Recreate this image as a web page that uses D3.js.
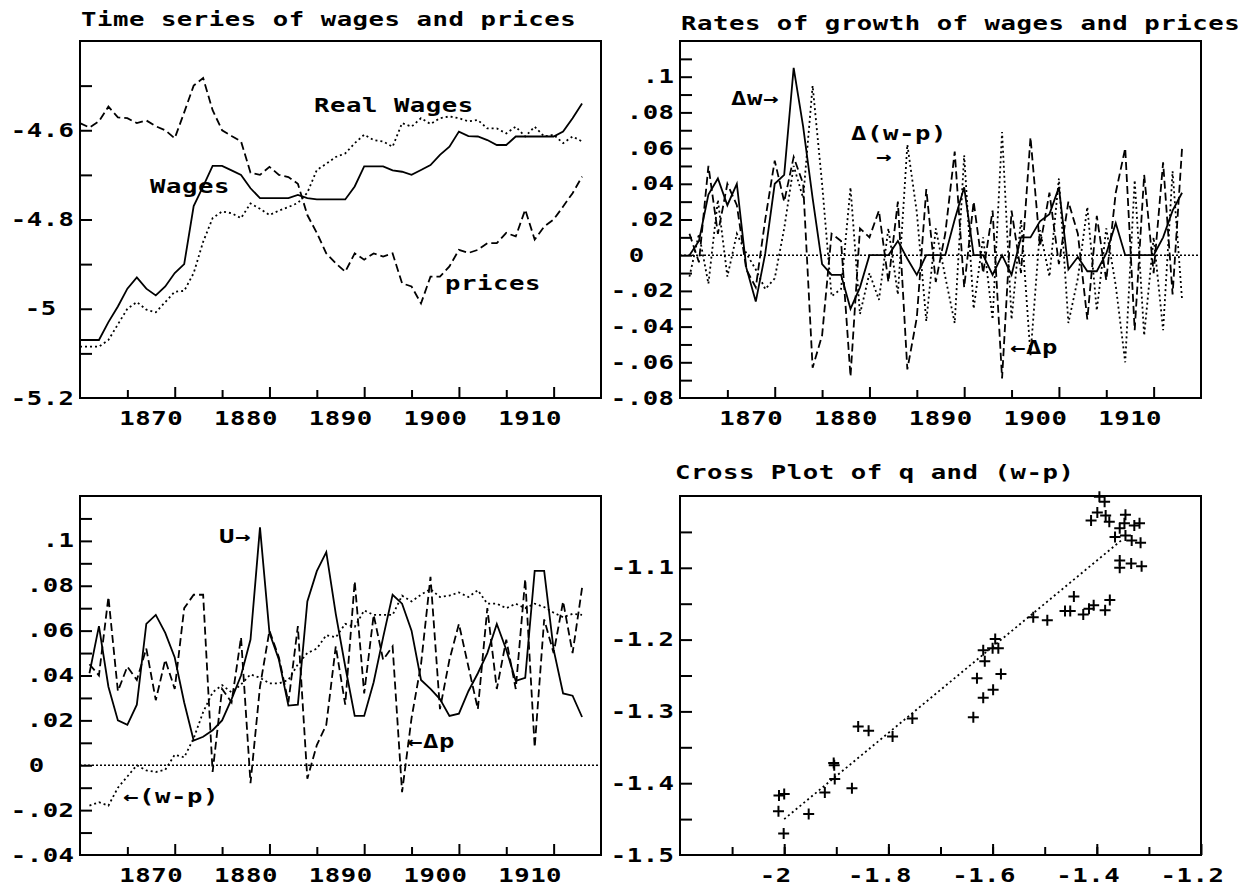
<!DOCTYPE html>
<html>
<head>
<meta charset="utf-8">
<script src="https://cdn.jsdelivr.net/npm/d3@7"></script>
<style>
  body { margin: 0; background: #fff; }
  svg text { font-family: "DejaVu Sans Mono", monospace; font-weight: bold; font-size: 19px; letter-spacing: 0.4px; fill: #000; }
  .tick line { stroke: #000; stroke-width: 2; }
  .solid { fill: none; stroke: #000; stroke-width: 1.8; }
  .dashed { fill: none; stroke: #000; stroke-width: 1.8; stroke-dasharray: 8 4; }
  .dotted { fill: none; stroke: #000; stroke-width: 1.8; stroke-dasharray: 2 3; }
  .zero { stroke: #000; stroke-width: 1.6; stroke-dasharray: 2 2; }
  .plus { stroke: #000; stroke-width: 2; fill: none; }
</style>
</head>
<body>
<svg id="chart" width="1248" height="885"></svg>
<script>
// years of the level series; growth series start one year later
const years = [1860, 1861, 1862, 1863, 1864, 1865, 1866, 1867, 1868, 1869,
  1870, 1871, 1872, 1873, 1874, 1875, 1876, 1877, 1878, 1879,
  1880, 1881, 1882, 1883, 1884, 1885, 1886, 1887, 1888, 1889,
  1890, 1891, 1892, 1893, 1894, 1895, 1896, 1897, 1898, 1899,
  1900, 1901, 1902, 1903, 1904, 1905, 1906, 1907, 1908, 1909,
  1910, 1911, 1912, 1913];
const growthYears = years.slice(1);

// top left: levels
const wages = [-5.07, -5.07, -5.07, -5.03, -4.995, -4.955, -4.93, -4.955, -4.97, -4.95,
  -4.92, -4.90, -4.77, -4.726, -4.68, -4.68, -4.69, -4.70, -4.73, -4.752,
  -4.752, -4.752, -4.752, -4.745, -4.752, -4.755, -4.755, -4.755, -4.755, -4.726,
  -4.681, -4.681, -4.681, -4.69, -4.693, -4.70, -4.689, -4.678, -4.655, -4.637,
  -4.603, -4.613, -4.614, -4.622, -4.633, -4.633, -4.614, -4.614, -4.614, -4.614,
  -4.614, -4.603, -4.573, -4.54];
const prices = [-4.584, -4.594, -4.58, -4.547, -4.571, -4.573, -4.584, -4.578, -4.591, -4.60,
  -4.618, -4.56, -4.50, -4.483, -4.555, -4.60, -4.613, -4.625, -4.695, -4.70,
  -4.682, -4.70, -4.705, -4.72, -4.79, -4.83, -4.876, -4.898, -4.917, -4.876,
  -4.89, -4.876, -4.883, -4.876, -4.943, -4.95, -4.988, -4.928, -4.928, -4.905,
  -4.868, -4.875, -4.868, -4.853, -4.853, -4.83, -4.838, -4.778, -4.845, -4.816,
  -4.80, -4.771, -4.741, -4.704];
const realWages = [-5.085, -5.085, -5.085, -5.07, -5.035, -5.00, -4.985, -5.002, -5.008, -4.985,
  -4.962, -4.96, -4.92, -4.85, -4.797, -4.782, -4.786, -4.797, -4.764, -4.776,
  -4.79, -4.78, -4.772, -4.763, -4.74, -4.689, -4.675, -4.66, -4.652, -4.629,
  -4.61, -4.622, -4.625, -4.637, -4.584, -4.592, -4.573, -4.586, -4.573, -4.569,
  -4.573, -4.58, -4.577, -4.596, -4.596, -4.607, -4.592, -4.614, -4.592, -4.614,
  -4.61, -4.629, -4.614, -4.625];

// top right: growth rates (1861-1913)
const dW = [0.000, 0.008, 0.034, 0.043, 0.028, 0.040, -0.007, -0.026, 0.001, 0.040,
  0.045, 0.105, 0.072, 0.032, -0.005, -0.011, -0.011, -0.030, -0.018, 0.000,
  0.000, 0.000, 0.008, -0.002, -0.011, 0.000, 0.000, 0.000, 0.020, 0.038,
  0.000, 0.000, -0.011, 0.000, -0.011, 0.010, 0.010, 0.019, 0.023, 0.038,
  -0.008, -0.001, -0.009, -0.009, 0.001, 0.018, 0.000, 0.000, 0.000, 0.000,
  0.010, 0.025, 0.035];
const dP = [0.012, -0.004, 0.050, 0.012, 0.040, 0.028, -0.008, -0.018, 0.020, 0.053,
  0.030, 0.055, 0.040, -0.063, -0.045, 0.012, 0.008, -0.068, 0.015, 0.010,
  0.025, -0.015, 0.030, -0.064, -0.035, 0.037, -0.015, 0.012, 0.058, -0.018,
  0.030, -0.010, 0.025, -0.069, 0.025, -0.010, 0.066, 0.005, 0.035, -0.005,
  0.030, 0.012, -0.036, 0.022, -0.014, 0.035, 0.060, -0.042, 0.045, -0.010,
  0.052, -0.022, 0.060];
const dRW = [-0.012, 0.012, -0.016, 0.031, -0.012, 0.012, 0.001, -0.008, -0.019, -0.013,
  0.015, 0.050, 0.032, 0.095, 0.040, -0.023, -0.019, 0.038, -0.033, -0.010,
  -0.025, 0.015, -0.022, 0.062, 0.024, -0.037, 0.015, -0.012, -0.038, 0.056,
  -0.030, 0.010, -0.036, 0.069, -0.036, 0.020, -0.056, 0.014, -0.012, 0.043,
  -0.038, -0.013, 0.027, -0.031, 0.015, -0.017, -0.060, 0.042, -0.045, 0.010,
  -0.042, 0.047, -0.025];

// bottom left: U, price inflation and (w-p) (1861-1913)
const unemp = [0.041, 0.062, 0.035, 0.020, 0.018, 0.027, 0.063, 0.067, 0.059, 0.048,
  0.028, 0.011, 0.0127, 0.0156, 0.020, 0.0295, 0.040, 0.056, 0.106, 0.059,
  0.047, 0.0266, 0.027, 0.073, 0.0865, 0.095, 0.0675, 0.044, 0.022, 0.022,
  0.037, 0.057, 0.076, 0.072, 0.060, 0.038, 0.034, 0.0295, 0.022, 0.023,
  0.033, 0.041, 0.050, 0.063, 0.0515, 0.0376, 0.039, 0.0866, 0.0866, 0.0515,
  0.032, 0.031, 0.0215];
const inflation = [0.045, 0.040, 0.075, 0.033, 0.044, 0.038, 0.052, 0.029, 0.047, 0.034,
  0.070, 0.076, 0.076, -0.003, 0.034, 0.028, 0.057, -0.008, 0.035, 0.060,
  0.048, 0.028, 0.062, -0.006, 0.009, 0.018, 0.053, 0.027, 0.082, 0.032,
  0.067, 0.047, 0.053, -0.012, 0.021, 0.045, 0.084, 0.025, 0.047, 0.063,
  0.044, 0.025, 0.070, 0.034, 0.056, 0.034, 0.083, 0.008, 0.065, 0.050,
  0.073, 0.050, 0.079];
const wageGap = [-0.018, -0.0165, -0.018, -0.010, -0.005, 0.0, -0.0023, -0.003, -0.002, 0.0047,
  0.0035, 0.012, 0.0237, 0.0325, 0.0357, 0.0325, 0.036, 0.0405, 0.039, 0.0365,
  0.0365, 0.038, 0.045, 0.050, 0.052, 0.058, 0.057, 0.063, 0.0617, 0.069,
  0.067, 0.067, 0.067, 0.0756, 0.073, 0.076, 0.0785, 0.075, 0.0756, 0.077,
  0.075, 0.078, 0.072, 0.072, 0.070, 0.072, 0.070, 0.072, 0.0705, 0.068,
  0.066, 0.0675, 0.067];

// bottom right: cross plot of q (x) and (w-p) (y)
const crossQ = [-1.395, -1.385, -1.399, -1.383, -1.411, -1.376, -1.345, -1.347, -1.318, -1.328,
  -1.356, -1.365, -1.345, -1.333, -1.316, -1.356, -1.356, -1.334, -1.314, -1.444,
  -1.461, -1.451, -1.426, -1.415, -1.406, -1.375, -1.384, -1.522, -1.495, -1.595,
  -1.618, -1.600, -1.589, -1.615, -1.584, -1.630, -1.618, -1.599, -1.637, -1.754,
  -1.792, -1.858, -1.838, -1.905, -1.904, -1.903, -1.870, -1.922, -2.010, -2.000,
  -2.011, -1.953, -2.001];
const crossW = [-1.001, -1.008, -1.023, -1.027, -1.034, -1.036, -1.026, -1.038, -1.038, -1.041,
  -1.045, -1.057, -1.055, -1.062, -1.065, -1.090, -1.100, -1.094, -1.098, -1.140,
  -1.160, -1.160, -1.165, -1.157, -1.152, -1.145, -1.159, -1.169, -1.173, -1.199,
  -1.215, -1.212, -1.212, -1.230, -1.248, -1.254, -1.281, -1.270, -1.308, -1.310,
  -1.335, -1.321, -1.327, -1.372, -1.375, -1.394, -1.407, -1.413, -1.417, -1.415,
  -1.439, -1.443, -1.470];
const fitQ = [-2.0, -1.35];
const fitW = [-1.45, -1.06];

// ticks and tick labels
const yearMinor = [1865, 1875, 1885, 1895, 1905];
const yearMajor = [1870, 1880, 1890, 1900, 1910];
const yearLabels = ["1870", "1880", "1890", "1900", "1910"];
const levelMinor = [-5.1, -5.0, -4.9, -4.8, -4.7, -4.6, -4.5];
const levelTicks = [-4.6, -4.8, -5.0, -5.2];
const levelLabels = ["-4.6", "-4.8", "-5", "-5.2"];
const growthMinor = [-0.07, -0.06, -0.05, -0.04, -0.03, -0.02, -0.01, 0, 0.01, 0.02,
  0.03, 0.04, 0.05, 0.06, 0.07, 0.08, 0.09, 0.1, 0.11];
const growthTicks = [0.1, 0.08, 0.06, 0.04, 0.02, 0, -0.02, -0.04, -0.06, -0.08];
const growthLabels = [".1", ".08", ".06", ".04", ".02", "0", "-.02", "-.04", "-.06", "-.08"];
const uMinor = [-0.03, -0.02, -0.01, 0, 0.01, 0.02, 0.03, 0.04, 0.05, 0.06,
  0.07, 0.08, 0.09, 0.1, 0.11];
const uTicks = [0.1, 0.08, 0.06, 0.04, 0.02, 0, -0.02, -0.04];
const uLabels = [".1", ".08", ".06", ".04", ".02", "0", "-.02", "-.04"];
const qMinor = [-2.1, -2.0, -1.9, -1.8, -1.7, -1.6, -1.5, -1.4, -1.3];
const qTicks = [-2.0, -1.8, -1.6, -1.4, -1.2];
const qLabels = ["-2", "-1.8", "-1.6", "-1.4", "-1.2"];
const wpMinor = [-1.45, -1.4, -1.35, -1.3, -1.25, -1.2, -1.15, -1.1, -1.05];
const wpTicks = [-1.1, -1.2, -1.3, -1.4, -1.5];
const wpLabels = ["-1.1", "-1.2", "-1.3", "-1.4", "-1.5"];

// the old screen font is wide: stretch the glyphs sideways
const SX = 1.35;

const svg = d3.select("#chart");

function makePanel(c) {
  const x = d3.scaleLinear().domain(c.xDomain).range([c.left, c.right]);
  const y = d3.scaleLinear().domain(c.yDomain).range([c.bottom, c.top]);
  const g = svg.append("g");

  // ticks point inwards
  g.append("g").attr("transform", `translate(${c.left},0)`)
    .call(d3.axisLeft(y).tickValues(c.yMinor).tickSize(-12).tickFormat(""));
  g.append("g").attr("transform", `translate(0,${c.bottom})`)
    .call(d3.axisBottom(x).tickValues(c.xMinor).tickSize(-8).tickFormat(""));
  g.append("g").attr("transform", `translate(0,${c.bottom})`)
    .call(d3.axisBottom(x).tickValues(c.xTicks).tickSize(-11).tickFormat(""));

  // labels
  const yl = g.append("g").attr("transform", `translate(${c.left},0)`)
    .call(d3.axisLeft(y).tickValues(c.yTicks).tickSize(0).tickPadding(4)
      .tickFormat((d, i) => c.yLabels[i]));
  // integer labels sit one or two columns further left, as in the original
  yl.selectAll("text")
    .attr("transform", `scale(${SX},1)`)
    .attr("dx", (d, i) => {
      const s = c.yLabels[i];
      if (s === "0") return -30 / SX;
      if (s.indexOf(".") < 0) return -18 / SX;
      return 0;
    });
  const xl = g.append("g").attr("transform", `translate(0,${c.bottom})`)
    .call(d3.axisBottom(x).tickValues(c.xTicks).tickSize(0).tickPadding(13.5)
      .tickFormat((d, i) => c.xLabels[i]));
  xl.selectAll("text")
    .attr("transform", `scale(${SX},1)`)
    .attr("dx", c.xLabelDx / SX);

  g.selectAll(".domain").remove();

  g.append("rect")
    .attr("x", c.left).attr("y", c.top)
    .attr("width", c.right - c.left).attr("height", c.bottom - c.top)
    .attr("fill", "none").attr("stroke", "#000").attr("stroke-width", 2);

  return { x, y, g };
}

function drawLine(p, xs, ys, cls) {
  const line = d3.line().x((d, i) => p.x(xs[i])).y(d => p.y(d));
  p.g.append("path").datum(ys).attr("class", cls).attr("d", line);
}

function zeroLine(p) {
  p.g.append("line").attr("class", "zero")
    .attr("x1", p.x.range()[0]).attr("x2", p.x.range()[1])
    .attr("y1", p.y(0)).attr("y2", p.y(0));
}

function label(t, x, y) {
  svg.append("text")
    .attr("transform", `translate(${x},${y + 6}) scale(${SX},1)`)
    .text(t);
}

// panel 1
const p1 = makePanel({
  left: 80, right: 601, top: 41, bottom: 398,
  xDomain: [1860, 1915], yDomain: [-5.2, -4.4],
  xMinor: yearMinor, xTicks: yearMajor, xLabels: yearLabels, xLabelDx: -24,
  yMinor: levelMinor, yTicks: levelTicks, yLabels: levelLabels
});
drawLine(p1, years, prices, "dashed");
drawLine(p1, years, realWages, "dotted");
drawLine(p1, years, wages, "solid");

// panel 2
const p2 = makePanel({
  left: 680, right: 1201, top: 41, bottom: 398,
  xDomain: [1860, 1915], yDomain: [-0.08, 0.12],
  xMinor: yearMinor, xTicks: yearMajor, xLabels: yearLabels, xLabelDx: -24,
  yMinor: growthMinor, yTicks: growthTicks, yLabels: growthLabels
});
zeroLine(p2);
drawLine(p2, growthYears, dP, "dashed");
drawLine(p2, growthYears, dRW, "dotted");
drawLine(p2, growthYears, dW, "solid");

// panel 3
const p3 = makePanel({
  left: 80, right: 601, top: 496, bottom: 855,
  xDomain: [1860, 1915], yDomain: [-0.04, 0.12],
  xMinor: yearMinor, xTicks: yearMajor, xLabels: yearLabels, xLabelDx: -24,
  yMinor: uMinor, yTicks: uTicks, yLabels: uLabels
});
zeroLine(p3);
drawLine(p3, growthYears, inflation, "dashed");
drawLine(p3, growthYears, wageGap, "dotted");
drawLine(p3, growthYears, unemp, "solid");

// panel 4
const p4 = makePanel({
  left: 680, right: 1201, top: 496, bottom: 855,
  xDomain: [-2.2, -1.2], yDomain: [-1.5, -1.0],
  xMinor: qMinor, xTicks: qTicks, xLabels: qLabels, xLabelDx: -9,
  yMinor: wpMinor, yTicks: wpTicks, yLabels: wpLabels
});
drawLine(p4, fitQ, fitW, "dotted");
p4.g.selectAll("path.plus").data(crossQ).join("path")
  .attr("class", "plus")
  .attr("transform", (d, i) => `translate(${p4.x(d)},${p4.y(crossW[i])})`)
  .attr("d", "M-5.5,0H5.5M0,-5.5V5.5");

// titles
label("Time series of wages and prices", 81, 20);
label("Rates of growth of wages and prices", 681, 24);
label("Cross Plot of q and (w-p)", 675, 473);

// annotations
label("Real Wages", 314, 106);
label("Wages", 150, 187);
label("prices", 445, 284);
label("Δw→", 731, 99);
label("Δ(w-p)", 851, 134);
label("→", 876, 157);
label("←Δp", 1010, 348);
label("U→", 219, 537);
label("←Δp", 407, 742);
label("←(w-p)", 123, 797);
</script>
</body>
</html>
